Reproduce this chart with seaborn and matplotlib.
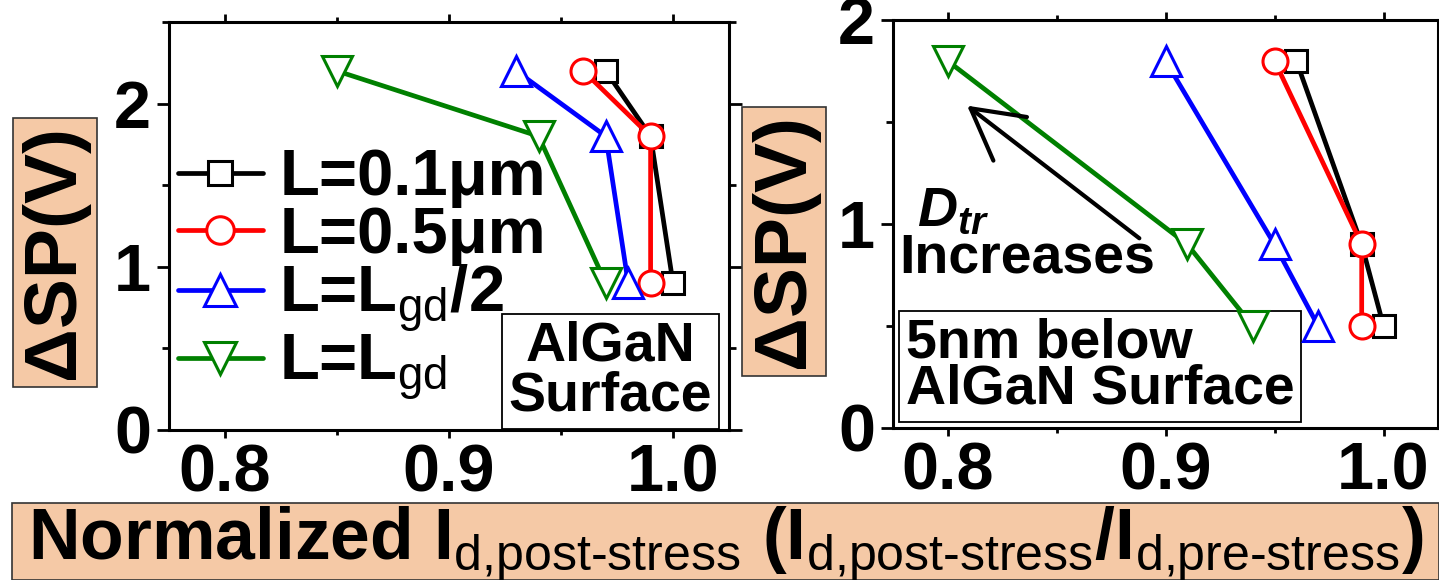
import matplotlib
matplotlib.use("Agg")
import matplotlib.pyplot as plt
from matplotlib.patches import Rectangle
from matplotlib.ticker import MultipleLocator
import seaborn as sns

# Trap-induced surface-potential shift vs. normalized drain current
dsp_surface = [2.2, 1.8, 0.9]
id_surface_01um = [0.97, 0.99, 1.00]
id_surface_05um = [0.96, 0.99, 0.99]
id_surface_half = [0.93, 0.97, 0.98]
id_surface_full = [0.85, 0.94, 0.97]

dsp_below = [1.8, 0.9, 0.5]
id_below_01um = [0.96, 0.99, 1.00]
id_below_05um = [0.95, 0.99, 0.99]
id_below_half = [0.90, 0.95, 0.97]
id_below_full = [0.80, 0.91, 0.94]

series_labels = ["L=0.1μm", "L=0.5μm", r"L=L$_\mathrm{gd}$/2", r"L=L$_\mathrm{gd}$"]
series_colors = ["#000000", "#FF0000", "#0000FF", "#008000"]
series_markers = ["s", "o", "^", "v"]
marker_sizes = [16, 18, 21, 21]

x_ticks = [0.8, 0.9, 1.0]
x_tick_labels = ["0.8", "0.9", "1.0"]

sns.set_theme(style="ticks")
plt.rcParams["font.family"] = ["Liberation Sans", "DejaVu Sans"]
plt.rcParams["text.color"] = "black"
plt.rcParams["axes.labelcolor"] = "black"
plt.rcParams["xtick.color"] = "black"
plt.rcParams["ytick.color"] = "black"
plt.rcParams["mathtext.fontset"] = "custom"
plt.rcParams["mathtext.rm"] = "Liberation Sans"
plt.rcParams["mathtext.it"] = "Liberation Sans:italic:bold"
plt.rcParams["mathtext.bf"] = "Liberation Sans:bold"
plt.rcParams["mathtext.sf"] = "Liberation Sans"

PEACH = "#F5C9A6"
W, H = 1439, 580
fig = plt.figure(figsize=(W / 100, H / 100), dpi=100)

ax1 = fig.add_axes([169 / W, 150 / H, 560 / W, 408 / H])
ax2 = fig.add_axes([893 / W, 152 / H, 545 / W, 408 / H])


def draw_panel(ax, xs_list, ys, ylim, yticks):
    for xs, lab, col, mk, ms in zip(xs_list, series_labels, series_colors,
                                    series_markers, marker_sizes):
        sns.lineplot(x=xs, y=ys, ax=ax, estimator=None, sort=False,
                     color=col, marker=mk, markersize=ms, markerfacecolor="white",
                     markeredgecolor=col, markeredgewidth=2.2, linewidth=3.4,
                     label=lab, legend=False, zorder=3)
    ax.set_xlim(0.775, 1.025)
    ax.set_ylim(*ylim)
    ax.set_xticks(x_ticks)
    ax.set_xticklabels(x_tick_labels)
    ax.set_yticks(yticks)
    ax.set_yticklabels([str(t) for t in yticks])
    ax.xaxis.set_minor_locator(MultipleLocator(0.05))
    ax.yaxis.set_minor_locator(MultipleLocator(0.5))
    ax.set_xlabel("")
    ax.set_ylabel("")
    for sp in ax.spines.values():
        sp.set_linewidth(2.2)
        sp.set_color("black")
        sp.set_visible(True)
    ax.tick_params(axis="both", which="both", direction="out", top=True,
                   right=True, width=2.0, colors="black")
    ax.tick_params(axis="x", which="major", length=6, pad=4, labelsize=48)
    ax.tick_params(axis="x", which="minor", length=3.5)
    ax.tick_params(axis="y", which="major", length=9, pad=4, labelsize=48)
    ax.tick_params(axis="y", which="minor", length=5)
    for lbl in ax.get_xticklabels() + ax.get_yticklabels():
        lbl.set_fontweight("bold")
    ax.set_facecolor("white")


draw_panel(ax1, [id_surface_01um, id_surface_05um, id_surface_half, id_surface_full],
           dsp_surface, (0, 2.5), [0, 1, 2])
draw_panel(ax2, [id_below_01um, id_below_05um, id_below_half, id_below_full],
           dsp_below, (0, 2.0), [0, 1, 2])

leg = ax1.legend(loc="upper left", bbox_to_anchor=(0.016, 0.69), frameon=False,
                 fontsize=47, handlelength=1.3, handletextpad=0.25,
                 labelspacing=-0.04, borderaxespad=0, borderpad=0, markerscale=1.1)
for t in leg.get_texts():
    t.set_fontweight("bold")

box_style = dict(boxstyle="square,pad=0.12", fc="white", ec="black", lw=1.3)
ax1.text(0.972, 0.36, "AlGaN\nSurface", ha="center", va="center",
         multialignment="center", fontsize=40, fontweight="bold",
         linespacing=0.95, bbox=box_style, zorder=2)
ax2.text(0.870, 0.30, "5nm below\nAlGaN Surface", ha="center", va="center",
         multialignment="left", fontsize=40, fontweight="bold",
         linespacing=0.85, bbox=box_style, zorder=2)

ax2.text(0.786, 0.99, r"$\mathit{D}_{\mathit{tr}}$", fontsize=40,
         ha="left", va="baseline", zorder=4)
ax2.text(0.778, 0.76, "Increases", fontsize=40, fontweight="bold",
         ha="left", va="baseline", zorder=4)
ax2.annotate("", xy=(0.809, 1.58), xytext=(0.888, 0.93),
             arrowprops=dict(arrowstyle="->,head_length=1.0,head_width=0.55",
                             lw=3.0, color="black", mutation_scale=36,
                             shrinkA=0, shrinkB=0), zorder=4)

ylabel_box = dict(boxstyle="square,pad=0.1", fc=PEACH, ec="#333333", lw=1.2)
for xc, yc in [(55, 252), (784, 241)]:
    fig.text(xc / W, 1 - yc / H, "ΔSP(V)", rotation=90, ha="center",
             va="center", fontsize=54, fontweight="bold", bbox=ylabel_box)

fig.patches.append(Rectangle((12 / W, 0), 1 - 12 / W, (H - 503) / H,
                             transform=fig.transFigure, fc=PEACH,
                             ec="#333333", lw=1.2, zorder=0))
fig.text(28 / W, 1 - 559 / H,
         r"Normalized I$_\text{d,post-stress}$ (I$_\text{d,post-stress}$/I$_\text{d,pre-stress}$)",
         ha="left", va="baseline", fontsize=51.5, fontweight="bold")

fig.savefig("out.png", dpi=100)
